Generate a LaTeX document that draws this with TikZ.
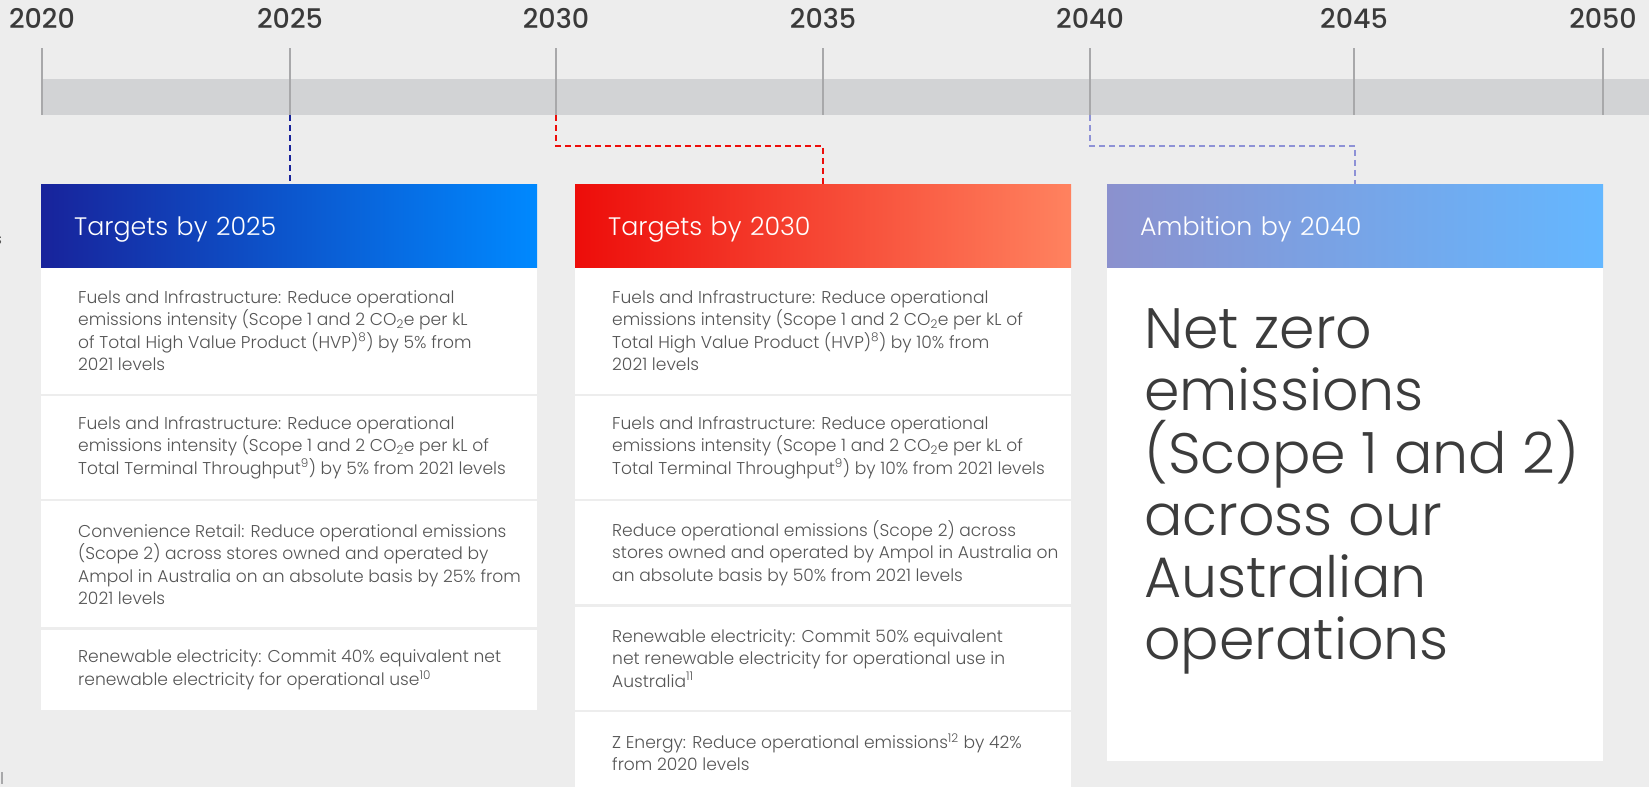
\documentclass[tikz,border=0pt]{standalone}
\usepackage{fontspec}
\setmainfont{Poppins}[UprightFont=* Light, BoldFont=* Medium]
\usetikzlibrary{positioning}
\definecolor{paper}{RGB}{237,237,237}
\definecolor{band}{RGB}{210,211,213}
\definecolor{tickgray}{RGB}{168,168,170}
\definecolor{yearink}{RGB}{58,58,58}
\definecolor{ink}{RGB}{85,85,85}
\definecolor{bigink}{RGB}{60,60,60}
\definecolor{navyL}{RGB}{24,35,155}
\definecolor{navyR}{RGB}{0,137,255}
\definecolor{redL}{RGB}{237,13,10}
\definecolor{redR}{RGB}{255,130,95}
\definecolor{lilacL}{RGB}{139,145,206}
\definecolor{lilacR}{RGB}{100,183,255}
\definecolor{lilacdash}{RGB}{142,146,214}

\begin{document}
\begin{tikzpicture}[x=1pt, y=-1pt,
    year/.style={text=yearink, font=\fontsize{27}{30}\selectfont\bfseries, inner sep=0pt},
    head/.style={anchor=north west, minimum width=496pt, minimum height=83pt,
      text width=430pt, inner xsep=33pt, inner ysep=0pt, align=left,
      text height=19pt, text depth=0pt,
      text=white, font=\fontsize{25.3}{30}\selectfont},
    cell/.style={fill=white, minimum width=496pt, inner sep=0pt},
    txt/.style={align=left, inner sep=0pt, text=ink,
      font=\fontsize{17.1}{22.5}\selectfont},
    link/.style={dash pattern=on 6pt off 4pt, line width=2pt}]
  \useasboundingbox (0,0) rectangle (1649,787);
  \clip (0,0) rectangle (1649,787);
  \fill[paper] (0,0) rectangle (1649,787);

  % Timeline band with year ticks
  \fill[band] (42,79) rectangle (1649,115);
  \foreach \x/\yr in {42/2020, 290/2025, 556/2030, 823/2035, 1090/2040, 1354/2045, 1603/2050} {
    \draw[tickgray, line width=2pt] (\x,48) -- (\x,115) coordinate (t\yr);
    \node[year, anchor=base] (y\yr) at (\x,28) {\yr};
  }

  % Column headers
  \node[head, left color=navyL, right color=navyR] (h25) at (41,184) {Targets by 2025};
  \node[head, left color=redL, right color=redR] (h30) at (575,184) {Targets by 2030};
  \node[head, left color=lilacL, right color=lilacR] (h40) at (1107,184) {Ambition by 2040};

  % Dashed links from the timeline
  \draw[link, navyL] (t2025) -- (t2025 |- h25.north);
  \draw[link, redL] (t2030) -- ++(0,31) -| (h30.north);
  \draw[link, lilacdash] (t2040) -- ++(0,31) -| (h40.north);

  % 2025 targets
  \node[cell, minimum height=126pt, below=0pt of h25] (a1) {};
  \node[cell, minimum height=103pt, below=2pt of a1] (a2) {};
  \node[cell, minimum height=126pt, below=2pt of a2] (a3) {};
  \node[cell, minimum height=80pt, below=2pt of a3] (a4) {};
  \node[txt, right=37pt of a1.west] {Fuels and Infrastructure: Reduce operational\\emissions intensity (Scope 1 and 2 CO\textsubscript{2}e per kL\\of Total High Value Product (HVP)\textsuperscript{8}) by 5\% from\\2021 levels};
  \node[txt, right=37pt of a2.west] {Fuels and Infrastructure: Reduce operational\\emissions intensity (Scope 1 and 2 CO\textsubscript{2}e per kL of\\Total Terminal Throughput\textsuperscript{9}) by 5\% from 2021 levels};
  \node[txt, right=37pt of a3.west] {Convenience Retail: Reduce operational emissions\\(Scope 2) across stores owned and operated by\\Ampol in Australia on an absolute basis by 25\% from\\2021 levels};
  \node[txt, right=37pt of a4.west] {Renewable electricity: Commit 40\% equivalent net\\renewable electricity for operational use\textsuperscript{10}};

  % 2030 targets
  \node[cell, minimum height=126pt, below=0pt of h30] (b1) {};
  \node[cell, minimum height=103pt, below=2pt of b1] (b2) {};
  \node[cell, minimum height=103pt, below=2pt of b2] (b3) {};
  \node[cell, minimum height=103pt, below=2pt of b3] (b4) {};
  \node[cell, minimum height=80pt, below=2pt of b4] (b5) {};
  \node[txt, right=37pt of b1.west] {Fuels and Infrastructure: Reduce operational\\emissions intensity (Scope 1 and 2 CO\textsubscript{2}e per kL of\\Total High Value Product (HVP)\textsuperscript{8}) by 10\% from\\2021 levels};
  \node[txt, right=37pt of b2.west] {Fuels and Infrastructure: Reduce operational\\emissions intensity (Scope 1 and 2 CO\textsubscript{2}e per kL of\\Total Terminal Throughput\textsuperscript{9}) by 10\% from 2021 levels};
  \node[txt, right=37pt of b3.west] {Reduce operational emissions (Scope 2) across\\stores owned and operated by Ampol in Australia on\\an absolute basis by 50\% from 2021 levels};
  \node[txt, right=37pt of b4.west] {Renewable electricity: Commit 50\% equivalent\\net renewable electricity for operational use in\\Australia\textsuperscript{11}};
  \node[txt, right=37pt of b5.west] {Z Energy: Reduce operational emissions\textsuperscript{12} by 42\%\\from 2020 levels};

  % 2040 ambition
  \node[cell, minimum height=493pt, below=0pt of h40] (c1) {};
  \node[align=left, inner sep=0pt, text=bigink, font=\fontsize{57}{62.3}\selectfont,
    below right=41pt and 37pt of c1.north west] (goal)
    {Net zero\\emissions\\(Scope 1 and 2)\\across our\\Australian\\operations};

  % cropped marks at the left edge
  \node[text=ink, font=\fontsize{15.5}{18}\selectfont, anchor=base] (cut) at (-2,244) {s};
  \draw[tickgray, line width=1.5pt] (2,772) -- (2,784);
\end{tikzpicture}
\end{document}
